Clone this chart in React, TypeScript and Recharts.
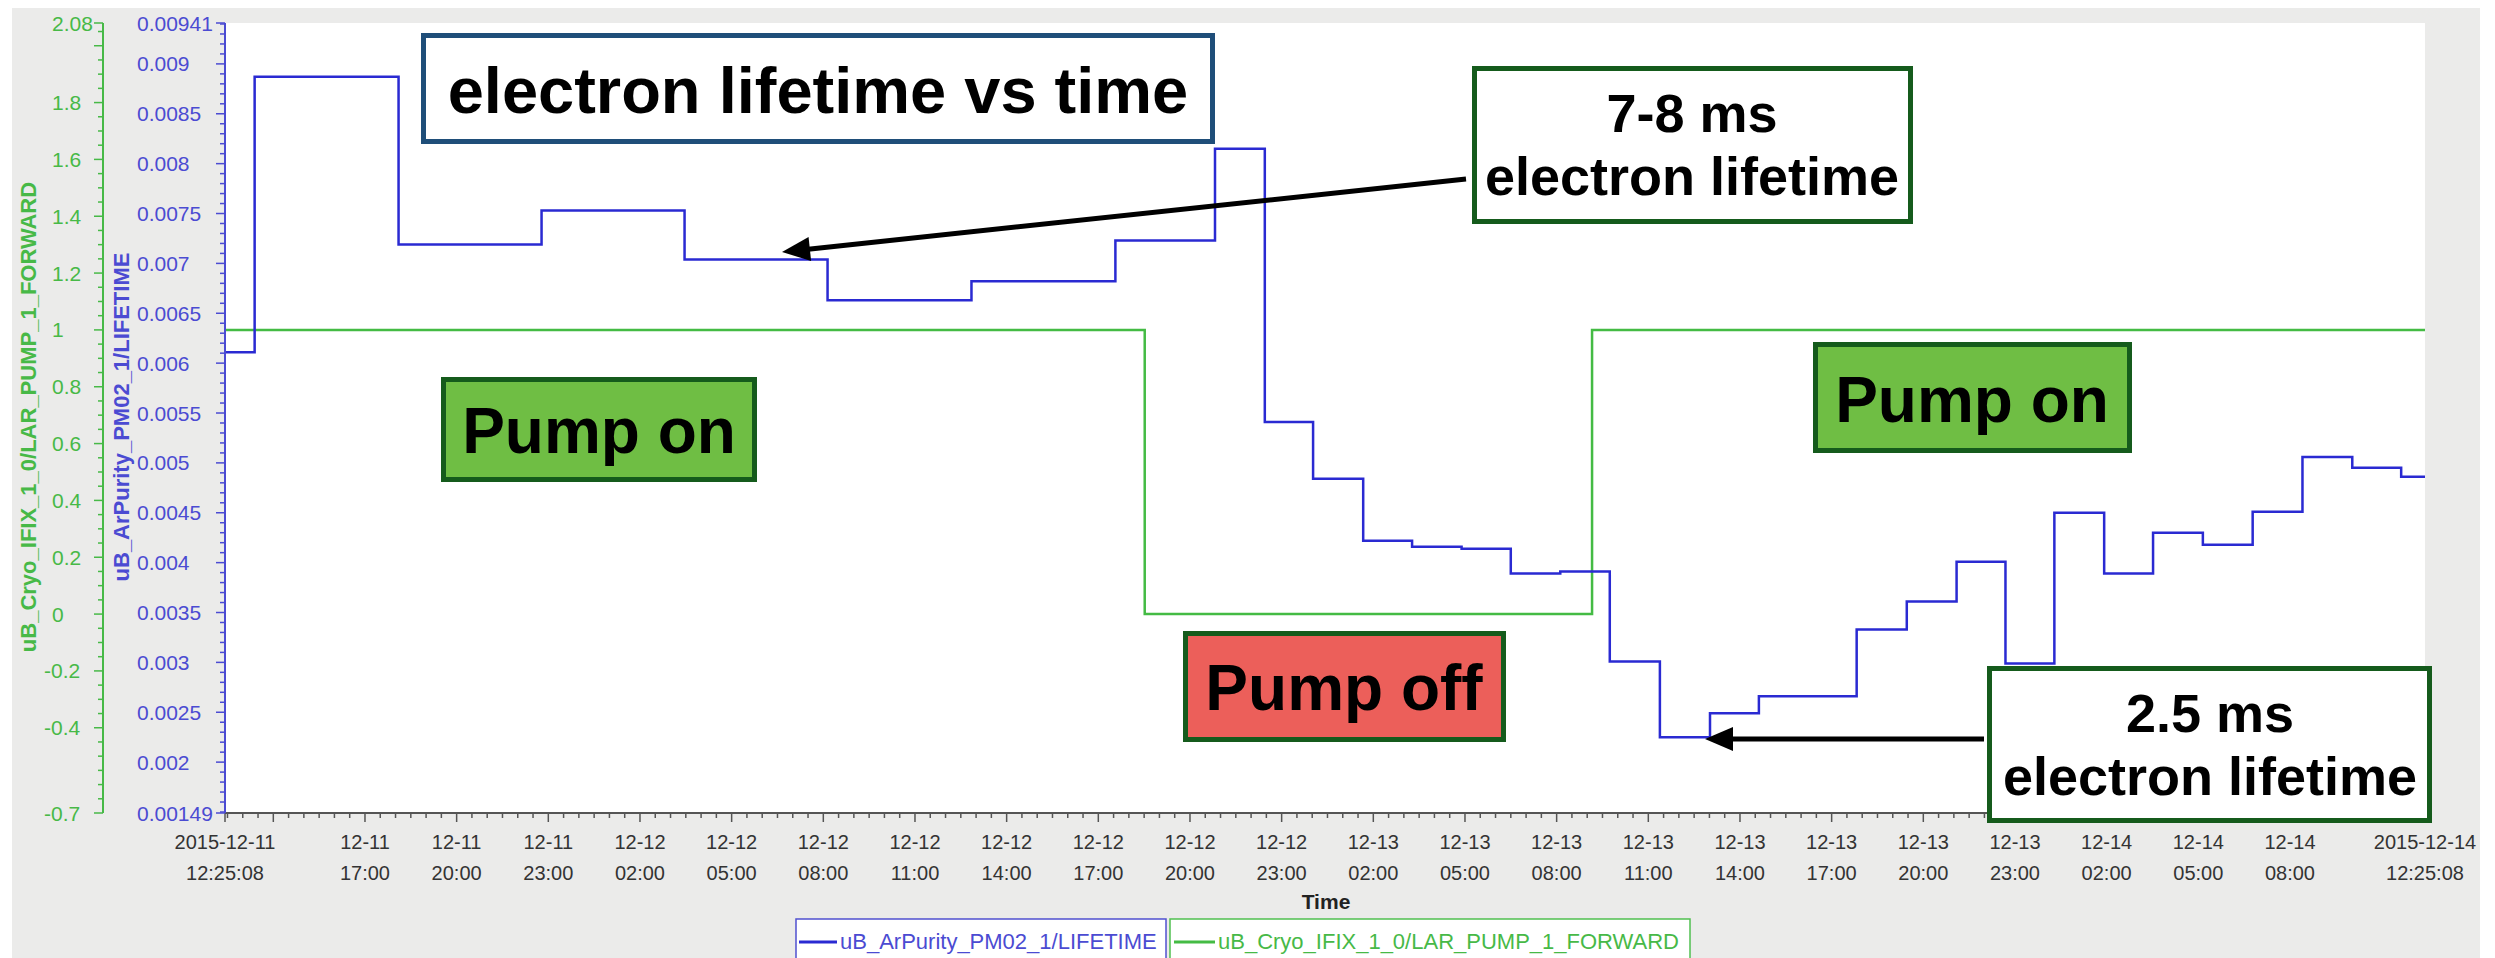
import React from 'react'
import { ComposedChart, Line, XAxis, YAxis, CartesianGrid } from 'recharts'

// hours since 2015-12-11 12:25:08
const lifetimeHours = [
  0, 0.97, 5.68, 10.36, 15.04, 19.72, 24.43, 29.14, 32.4, 34.03, 35.61, 37.25, 38.85, 40.47, 42.08,
  43.7, 45.32, 46.96, 48.6, 50.2, 53.4, 55.04, 56.67, 58.27, 59.87, 61.5, 63.1, 64.73, 66.36, 67.99,
  69.62, 71.22, 72,
]
const lifetimeValues = [
  0.00611, 0.00887, 0.00719, 0.00753, 0.00704, 0.00663, 0.00682, 0.00723, 0.00815, 0.00541, 0.00484,
  0.00422, 0.00416, 0.00414, 0.00389, 0.00391, 0.00301, 0.00225, 0.00249, 0.00266, 0.00333, 0.00361,
  0.00401, 0.00299, 0.0045, 0.00389, 0.0043, 0.00418, 0.00451, 0.00506, 0.00495, 0.00486, 0.00486,
]
const pumpHours = [0, 30.1, 44.74, 72]
const pumpValues = [1, 0, 1, 1]

const lifetimeTickValues = [
  0.00941, 0.009, 0.0085, 0.008, 0.0075, 0.007, 0.0065, 0.006, 0.0055, 0.005, 0.0045, 0.004, 0.0035,
  0.003, 0.0025, 0.002, 0.00149,
]
const lifetimeTickLabels = [
  '0.00941', '0.009', '0.0085', '0.008', '0.0075', '0.007', '0.0065', '0.006', '0.0055', '0.005',
  '0.0045', '0.004', '0.0035', '0.003', '0.0025', '0.002', '0.00149',
]
const pumpTickValues = [2.08, 1.8, 1.6, 1.4, 1.2, 1, 0.8, 0.6, 0.4, 0.2, 0, -0.2, -0.4, -0.7]
const pumpTickLabels = ['2.08', '1.8', '1.6', '1.4', '1.2', '1', '0.8', '0.6', '0.4', '0.2', '0', '-0.2', '-0.4', '-0.7']

const timeTickHours = [
  0, 4.5811, 7.5811, 10.5811, 13.5811, 16.5811, 19.5811, 22.5811, 25.5811, 28.5811, 31.5811, 34.5811,
  37.5811, 40.5811, 43.5811, 46.5811, 49.5811, 52.5811, 55.5811, 58.5811, 61.5811, 64.5811, 67.5811, 72,
]
const timeTickDates = [
  '2015-12-11', '12-11', '12-11', '12-11', '12-12', '12-12', '12-12', '12-12', '12-12', '12-12', '12-12',
  '12-12', '12-13', '12-13', '12-13', '12-13', '12-13', '12-13', '12-13', '12-13', '12-14', '12-14',
  '12-14', '2015-12-14',
]
const timeTickClock = [
  '12:25:08', '17:00', '20:00', '23:00', '02:00', '05:00', '08:00', '11:00', '14:00', '17:00', '20:00',
  '23:00', '02:00', '05:00', '08:00', '11:00', '14:00', '17:00', '20:00', '23:00', '02:00', '05:00',
  '08:00', '12:25:08',
]

const lifetimeData = lifetimeHours.map((h, i) => ({ h, lifetime: lifetimeValues[i] }))
const pumpData = pumpHours.map((h, i) => ({ h, pump: pumpValues[i] }))

// minor tick marks
const blueMinor = Array.from({ length: 80 }, (_, i) => +(0.0015 + i * 0.0001).toFixed(5))
const greenMinor = Array.from({ length: 56 }, (_, i) => +(-0.7 + i * 0.05).toFixed(2))
const timeMinor = Array.from({ length: 144 }, (_, i) => +(0.0811 + i * 0.5).toFixed(4))

const uniq = (a: number[]) => Array.from(new Set(a)).sort((p, q) => p - q)
const blueTicks = uniq([...lifetimeTickValues, ...blueMinor])
const greenTicks = uniq([...pumpTickValues, ...greenMinor, 2.0])
const timeTicks = uniq([...timeTickHours, ...timeMinor, 1.5811])

const FONT = '"Liberation Sans", Arial, Helvetica, sans-serif'
const BLUE = '#2a2ad2'
const BLUE_TXT = '#4b4bd2'
const GREEN = '#44bb44'
const GREEN_TXT = '#47b947'
const DARK_GREEN = '#155b1c'

const findIdx = (arr: number[], v: number, tol: number) => arr.findIndex((a) => Math.abs(a - v) < tol)

function BlueTick({ x, y, payload }: any) {
  const idx = findIdx(lifetimeTickValues, payload.value, 1e-7)
  return (
    <g>
      <line x1={x} x2={x - (idx >= 0 ? 9 : 5)} y1={y} y2={y} stroke={BLUE_TXT} strokeWidth={1.5} />
      {idx >= 0 && (
        <text x={x - 88} y={y} dominantBaseline="central" fontSize={21} fontFamily={FONT} fill={BLUE_TXT}>
          {lifetimeTickLabels[idx]}
        </text>
      )}
    </g>
  )
}

function GreenTick({ x, y, payload }: any) {
  const idx = findIdx(pumpTickValues, payload.value, 1e-4)
  const big = idx >= 0 || Math.abs(payload.value - 2) < 1e-4
  const label = idx >= 0 ? pumpTickLabels[idx] : ''
  return (
    <g>
      <line x1={x} x2={x - (big ? 9 : 5)} y1={y} y2={y} stroke={GREEN_TXT} strokeWidth={1.5} />
      {label && (
        <text
          x={x - 51 - (label.startsWith('-') ? 8 : 0)}
          y={y}
          dominantBaseline="central"
          fontSize={21}
          fontFamily={FONT}
          fill={GREEN_TXT}
        >
          {label}
        </text>
      )}
    </g>
  )
}

function TimeTick({ x, y, payload }: any) {
  const idx = findIdx(timeTickHours, payload.value, 1e-3)
  const big = idx >= 0 || Math.abs(payload.value - 1.5811) < 1e-3
  return (
    <g>
      <line x1={x} x2={x} y1={y} y2={y + (big ? 9 : 5)} stroke="#555" strokeWidth={1.5} />
      {idx >= 0 && (
        <text textAnchor="middle" fontSize={20} fontFamily={FONT} fill="#333">
          <tspan x={x} y={y + 36}>{timeTickDates[idx]}</tspan>
          <tspan x={x} y={y + 67}>{timeTickClock[idx]}</tspan>
        </text>
      )}
    </g>
  )
}

function Arrow({ x1, y1, x2, y2 }: { x1: number; y1: number; x2: number; y2: number }) {
  const len = Math.hypot(x2 - x1, y2 - y1)
  const ux = (x2 - x1) / len
  const uy = (y2 - y1) / len
  const bx = x2 - ux * 28
  const by = y2 - uy * 28
  const nx = uy
  const ny = -ux
  return (
    <g>
      <line x1={x1} y1={y1} x2={bx + ux * 4} y2={by + uy * 4} stroke="#000" strokeWidth={5} />
      <polygon points={`${x2},${y2} ${bx + nx * 12},${by + ny * 12} ${bx - nx * 12},${by - ny * 12}`} fill="#000" />
    </g>
  )
}

function Box({ l, t, r, b, fill, stroke }: { l: number; t: number; r: number; b: number; fill: string; stroke: string }) {
  return <rect x={l + 2.5} y={t + 2.5} width={r - l - 5} height={b - t - 5} fill={fill} stroke={stroke} strokeWidth={5} />
}

function Annotations() {
  const bold = { fontFamily: FONT, fontWeight: 700, fill: '#000', textAnchor: 'middle' as const }
  return (
    <svg width={2495} height={958} style={{ position: 'absolute', left: 0, top: 0, pointerEvents: 'none' }}>
      {/* axis titles */}
      <text
        transform="translate(28,417) rotate(-90)"
        textAnchor="middle"
        dominantBaseline="central"
        fontSize={22}
        fontWeight={700}
        fontFamily={FONT}
        fill={GREEN_TXT}
      >
        uB_Cryo_IFIX_1_0/LAR_PUMP_1_FORWARD
      </text>
      <text
        transform="translate(121,417) rotate(-90)"
        textAnchor="middle"
        dominantBaseline="central"
        fontSize={22}
        fontWeight={700}
        fontFamily={FONT}
        fill={BLUE_TXT}
      >
        uB_ArPurity_PM02_1/LIFETIME
      </text>
      <text x={1326} y={909} textAnchor="middle" fontSize={21} fontWeight={700} fontFamily={FONT} fill="#222">
        Time
      </text>

      {/* legend */}
      <rect x={796} y={919} width={370} height={60} fill="#fff" stroke="#5050d0" strokeWidth={1.5} />
      <line x1={799} x2={837} y1={942} y2={942} stroke={BLUE} strokeWidth={3} />
      <text x={840} y={949} fontSize={22} fontFamily={FONT} fill={BLUE_TXT}>
        uB_ArPurity_PM02_1/LIFETIME
      </text>
      <rect x={1170} y={919} width={520} height={60} fill="#fff" stroke="#50c050" strokeWidth={1.5} />
      <line x1={1174} x2={1215} y1={942} y2={942} stroke={GREEN} strokeWidth={3} />
      <text x={1218} y={949} fontSize={22} fontFamily={FONT} fill={GREEN_TXT}>
        uB_Cryo_IFIX_1_0/LAR_PUMP_1_FORWARD
      </text>

      {/* callouts */}
      <Box l={421} t={33} r={1215} b={144} fill="#fff" stroke="#1f4e79" />
      <text x={818} y={113} fontSize={65} {...bold}>electron lifetime vs time</text>

      <Box l={1472} t={66} r={1913} b={224} fill="#fff" stroke={DARK_GREEN} />
      <text x={1692} y={132} fontSize={54} {...bold}>7-8 ms</text>
      <text x={1692} y={195} fontSize={54} {...bold}>electron lifetime</text>
      <Arrow x1={1466} y1={179} x2={782} y2={252} />

      <Box l={441} t={377} r={757} b={482} fill="#6fbe44" stroke={DARK_GREEN} />
      <text x={599} y={453} fontSize={64} {...bold}>Pump on</text>

      <Box l={1813} t={342} r={2132} b={453} fill="#6fbe44" stroke={DARK_GREEN} />
      <text x={1972} y={422} fontSize={64} {...bold}>Pump on</text>

      <Box l={1183} t={631} r={1506} b={742} fill="#ec5f5a" stroke={DARK_GREEN} />
      <text x={1344} y={710} fontSize={64} {...bold}>Pump off</text>

      <Box l={1987} t={666} r={2432} b={823} fill="#fff" stroke={DARK_GREEN} />
      <text x={2210} y={732} fontSize={54} {...bold}>2.5 ms</text>
      <text x={2210} y={795} fontSize={54} {...bold}>electron lifetime</text>
      <Arrow x1={1984} y1={739} x2={1705} y2={739} />
    </svg>
  )
}

export default function App() {
  return (
    <div style={{ position: 'absolute', left: 0, top: 0, width: 2495, height: 958, background: '#fff', overflow: 'hidden', fontFamily: FONT }}>
      <div style={{ position: 'absolute', left: 12, top: 8, width: 2468, height: 950, background: '#ebebea' }} />
      <div style={{ position: 'absolute', left: 0, top: 0 }}>
        <ComposedChart width={2495} height={958} margin={{ top: 23, right: 70, bottom: 0, left: 12 }}>
          <CartesianGrid horizontal={false} vertical={false} fill="#ffffff" stroke="none" />
          <XAxis
            dataKey="h"
            type="number"
            domain={[0, 72]}
            allowDataOverflow
            ticks={timeTicks}
            interval={0}
            height={145}
            tickLine={false}
            tickSize={0}
            tickMargin={0}
            tick={(p: any) => <TimeTick {...p} />}
            axisLine={{ stroke: '#555', strokeWidth: 2 }}
          />
          <YAxis
            yAxisId="blue"
            orientation="left"
            width={122}
            domain={[0.00149, 0.00941]}
            allowDataOverflow
            ticks={blueTicks}
            interval={0}
            tickLine={false}
            tickSize={0}
            tickMargin={0}
            tick={(p: any) => <BlueTick {...p} />}
            axisLine={{ stroke: BLUE_TXT, strokeWidth: 2 }}
          />
          <YAxis
            yAxisId="green"
            orientation="left"
            width={91}
            domain={[-0.7, 2.08]}
            allowDataOverflow
            ticks={greenTicks}
            interval={0}
            tickLine={false}
            tickSize={0}
            tickMargin={0}
            tick={(p: any) => <GreenTick {...p} />}
            axisLine={{ stroke: GREEN_TXT, strokeWidth: 2 }}
          />
          <Line
            yAxisId="green"
            data={pumpData}
            dataKey="pump"
            type="stepAfter"
            stroke={GREEN}
            strokeWidth={2.5}
            dot={false}
            isAnimationActive={false}
          />
          <Line
            yAxisId="blue"
            data={lifetimeData}
            dataKey="lifetime"
            type="stepAfter"
            stroke={BLUE}
            strokeWidth={2.5}
            dot={false}
            isAnimationActive={false}
          />
        </ComposedChart>
      </div>
      <Annotations />
    </div>
  )
}
